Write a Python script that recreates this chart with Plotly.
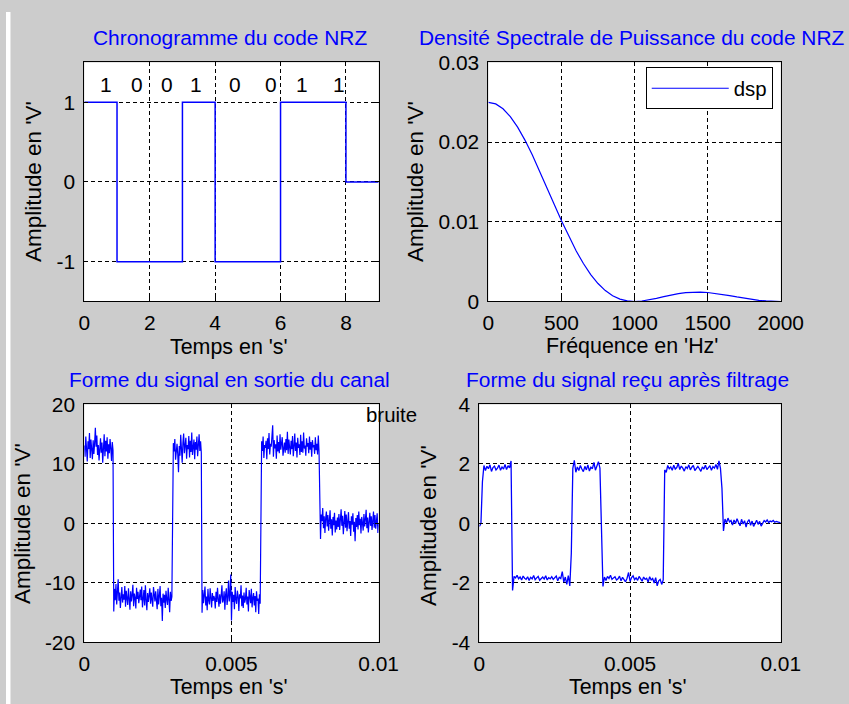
import plotly.graph_objects as go

# ---------------- data ----------------
# 1) NRZ chronogram
bits = ['1', '0', '0', '1', '0', '0', '1', '1']
nrz_t = [0, 1, 3, 4, 6, 8, 9]
nrz_v = [1, -1, 1, -1, 1, 0, 0]
bit_label_x = [0.67, 1.62, 2.53, 3.42, 4.61, 5.70, 6.65, 7.78]
bit_label_y = 1.22

# 2) Power spectral density (read every 50 Hz)
dsp_f = [0, 50, 100, 150, 200, 250, 300, 350, 400, 450,
         500, 550, 600, 650, 700, 750, 800, 850, 900, 950,
         1000, 1050, 1100, 1150, 1200, 1250, 1300, 1350, 1400, 1450,
         1500, 1550, 1600, 1650, 1700, 1750, 1800, 1850, 1900, 1950, 2000]
dsp_v = [0.02500, 0.02480, 0.02419, 0.02320, 0.02188, 0.02026, 0.01842, 0.01642, 0.01432, 0.01220,
         0.01013, 0.00817, 0.00636, 0.00476, 0.00338, 0.00225, 0.00137, 0.00072, 0.00030, 0.00007,
         0.00000, 0.00006, 0.00020, 0.00039, 0.00061, 0.00081, 0.00098, 0.00110, 0.00117, 0.00118,
         0.00113, 0.00103, 0.00090, 0.00074, 0.00057, 0.00041, 0.00027, 0.00015, 0.00007, 0.00002,
         0.00000]

# 3) channel output (sampled every 25 us)
canal_period = 0.000025
canal_v = [
    13.1, 11.2, 14.6, 12.0, 10.4, 13.8, 12.5, 15.2, 11.0, 14.1,
    12.2, 10.8, 14.0, 11.7, 13.5, 16.1, 12.9, 14.8, 11.5, 13.2,
    10.6, 12.7, 14.3, 11.9, 13.6, 10.2, 12.4, 15.0, 11.3, 13.9,
    12.1, 14.5, 10.9, 13.3, 11.8, 14.2, 12.6, 10.5, 13.7, 12.3,
    -14.8, -11.0, -12.9, -10.2, -13.6, -12.1, -9.4, -13.0, -11.6, -14.2,
    -12.4, -10.7, -13.3, -11.9, -12.8, -10.5, -14.0, -11.3, -12.6, -13.7,
    -10.9, -12.2, -14.5, -11.4, -13.1, -12.0, -10.3, -13.9, -11.8, -12.5,
    -14.3, -10.8, -12.7, -11.5, -13.4, -12.3, -11.1, -12.9, -10.6, -14.1,
    -12.6, -11.2, -13.8, -10.4, -12.9, -14.6, -11.7, -13.2, -12.1, -10.9,
    -13.5, -11.6, -12.8, -14.0, -10.7, -12.4, -13.1, -11.4, -12.7, -14.4,
    -11.0, -13.6, -12.2, -10.5, -13.9, -12.5, -16.4, -11.8, -13.3, -12.0,
    -14.2, -11.3, -12.8, -13.7, -10.8, -12.6, -14.9, -11.5, -13.0, -12.3,
    11.0, 13.5, 12.1, 14.2, 10.7, 12.8, 13.4, 11.6, 8.6, 13.0,
    11.4, 14.9, 12.3, 10.2, 13.6, 15.1, 11.8, 12.7, 14.4, 10.9,
    13.2, 12.5, 14.7, 11.1, 13.9, 12.0, 15.3, 11.5, 12.9, 14.1,
    10.8, 13.7, 12.4, 14.6, 11.3, 13.1, 15.0, 12.2, 13.8, 11.9,
    -15.0, -11.2, -13.4, -12.0, -10.6, -13.8, -12.3, -14.6, -11.0, -12.9,
    -13.6, -10.9, -12.4, -14.1, -11.7, -13.0, -12.2, -12.6, -14.3, -11.5,
    -13.2, -10.8, -12.7, -14.0, -11.9, -13.5, -12.1, -10.4, -13.3, -12.8,
    -11.4, -14.5, -12.0, -10.9, -13.7, -12.4, -9.6, -13.1, -11.8, -8.6,
    -16.3, -11.5, -13.2, -12.0, -14.4, -10.7, -12.8, -13.5, -11.3, -12.2,
    -14.7, -11.9, -12.6, -10.4, -13.9, -12.1, -14.2, -11.6, -13.3, -12.7,
    -10.8, -13.6, -12.3, -14.8, -11.2, -12.9, -13.4, -11.0, -14.1, -12.5,
    -11.7, -13.8, -12.2, -14.9, -11.4, -13.0, -12.6, -15.2, -11.9, -13.5,
    11.5, 13.8, 12.2, 14.6, 11.0, 13.2, 12.7, 13.9, 10.8, 14.3,
    12.5, 15.2, 11.6, 13.4, 12.9, 15.6, 16.5, 11.2, 14.0, 12.6,
    13.3, 10.9, 14.8, 12.1, 13.7, 11.8, 15.0, 12.4, 13.1, 14.5,
    11.4, 12.9, 13.6, 11.9, 14.2, 12.3, 15.4, 11.7, 14.1, 12.8,
    11.6, 13.9, 12.5, 14.7, 11.3, 13.0, 15.1, 12.2, 13.6, 11.1,
    14.4, 12.7, 13.3, 11.5, 14.9, 12.0, 13.8, 11.9, 15.3, 12.6,
    13.1, 11.4, 14.3, 12.9, 13.5, 11.8, 14.6, 12.4, 13.7, 11.2,
    14.0, 12.8, 13.2, 11.7, 14.5, 12.3, 13.4, 11.6, 14.8, 12.1,
    -2.3, -2.6, 1.5, 0.4, 2.6, -0.8, 1.2, -1.6, 0.9, 2.0,
    -0.5, 1.4, -1.2, 0.3, 2.2, -0.9, 0.7, -2.0, 1.1, -0.3,
    1.8, -1.5, 0.5, -1.0, 1.0, -0.6, 1.6, -1.1, 0.2, 2.4,
    -0.4, 1.3, -1.8, 0.8, 2.1, -0.7, 1.5, -1.3, 0.6, 1.9,
    -0.9, 0.4, -2.1, 1.2, -0.2, 1.7, -1.4, 0.3, -3.0, 0.9,
    -0.6, 1.4, -1.0, 2.0, -0.3, 0.8, -1.7, 1.1, 0.1, -1.2,
    1.6, -0.5, 0.7, 2.3, -0.8, 1.0, -1.5, 0.5, 1.8, -0.4,
    1.2, -1.1, 0.6, 2.0, -0.7, 1.4, -0.9, 0.3, 1.7, -1.6,
    0.0,
]

# 4) received signal after filtering (sampled every 50 us)
filtre_period = 0.00005
filtre_v = [
    -0.10, 0.00, 1.40, 1.95, 1.78, 1.92, 1.84, 1.97, 1.75, 1.88,
    1.93, 1.80, 1.86, 1.96, 1.79, 1.90, 1.83, 1.98, 1.81, 1.94,
    1.87, 2.10, -2.25, -1.78, -1.83, -1.74, -1.86, -1.80, -1.90, -1.77,
    -1.84, -1.88, -1.79, -1.92, -1.81, -1.86, -1.75, -1.89, -1.83, -1.78,
    -1.91, -1.85, -1.80, -1.87, -1.76, -1.90, -1.82, -1.86, -1.79, -1.88,
    -1.84, -1.77, -1.93, -1.81, -1.85, -1.62, -1.97, -1.80, -2.05, -1.75,
    -2.10, -1.00, 1.85, 2.12, 1.72, 1.90, 1.78, 1.95, 1.83, 1.74,
    1.92, 1.80, 1.97, 1.76, 1.89, 1.84, 2.05, 1.79, 1.93, 2.08,
    1.86, 0.10, -2.12, -1.80, -1.92, -1.78, -1.85, -1.74, -1.88, -1.83,
    -1.79, -1.90, -1.86, -1.77, -1.93, -1.81, -1.87, -1.96, -1.84, -1.65,
    -1.95, -1.82, -1.76, -1.89, -1.83, -1.91, -1.78, -1.86, -1.94, -1.80,
    -1.88, -1.84, -1.97, -1.79, -1.90, -1.85, -2.00, -1.82, -2.10, -1.93,
    -1.88, -2.05, -1.90, 1.80, 1.72, 1.95, 1.84, 1.90, 1.79, 1.96,
    1.83, 1.88, 2.02, 1.81, 1.93, 1.86, 1.76, 1.91, 1.85, 1.97,
    1.80, 1.89, 1.95, 1.78, 1.87, 1.92, 1.84, 1.75, 1.90, 1.83,
    1.96, 1.81, 1.88, 1.94, 1.79, 1.91, 1.86, 1.98, 1.82, 2.10,
    1.85, 1.18, -0.25, 0.15, 0.02, 0.18, 0.05, 0.10, -0.05, 0.12,
    0.00, 0.16, 0.03, -0.08, 0.14, -0.02, 0.09, -0.12, 0.06, 0.13,
    -0.06, 0.08, -0.10, 0.04, 0.11, -0.03, 0.07, -0.09, 0.02, 0.10,
    0.05, 0.12, 0.03, 0.08, 0.06, 0.10, 0.04, 0.07, 0.05, 0.03,
    0.02,
]
canal_t = [k * canal_period for k in range(len(canal_v))]
filtre_t = [k * filtre_period for k in range(len(filtre_v))]

# ---------------- layout helpers ----------------
# The photographed picture shows the page slightly reduced and shifted
# (picture = A * page + B).  Targets below are picture pixels read off the
# reference; they are converted back to page pixels.
AX, BX = 0.970, 4.5
AY, BY = 0.969, 10.5
FS = 1.02  # font compensation
W, H = 900, 740  # figure is larger than the window; overflow is hidden
FONT = "Liberation Sans, Arial, sans-serif"
BLUE = "#0000ff"
GRAY = "#cccccc"


def px_x(sx):
    """picture pixel -> paper fraction"""
    return ((sx - BX) / AX) / W


def px_y(sy):
    return 1 - ((sy - BY) / AY) / H


fig = go.Figure()

fig.add_trace(go.Scatter(x=nrz_t, y=nrz_v, mode="lines", line=dict(color=BLUE, width=1.5, shape="hv"),
                         xaxis="x", yaxis="y", showlegend=False))
fig.add_trace(go.Scatter(x=dsp_f, y=dsp_v, mode="lines", name="dsp", line=dict(color=BLUE, width=1.2),
                         xaxis="x2", yaxis="y2", showlegend=True))
fig.add_trace(go.Scatter(x=canal_t, y=canal_v, mode="lines", line=dict(color=BLUE, width=1.2),
                         xaxis="x3", yaxis="y3", showlegend=False))
fig.add_trace(go.Scatter(x=filtre_t, y=filtre_v, mode="lines", line=dict(color=BLUE, width=1.3),
                         xaxis="x4", yaxis="y4", showlegend=False))

TICK_FS = 20.5 * FS


def axis(domain, rng, tickvals, ticktext, anchor, standoff):
    return dict(domain=domain, range=rng, tickvals=tickvals, ticktext=ticktext, anchor=anchor,
                showgrid=True, gridcolor="black", gridwidth=1, griddash="4px,3px",
                zeroline=False, showline=True, linecolor="black", linewidth=1, mirror="ticks",
                ticks="inside", ticklen=4, tickcolor="black", ticklabelstandoff=standoff,
                tickfont=dict(family=FONT, size=TICK_FS, color="black"), fixedrange=True)


# plot areas in picture pixels: (left, right, top, bottom)
P1 = (83, 378, 61, 300)
P2 = (488, 781, 61, 300)
P3 = (83, 378, 403, 641)
P4 = (479, 781, 403, 641)


def xd(p):
    return [px_x(p[0]), px_x(p[1])]


def yd(p):
    return [px_y(p[3]), px_y(p[2])]


XS, YS = 2, 4

fig.update_layout(
    width=W, height=H,
    margin=dict(l=0, r=0, t=0, b=0),
    paper_bgcolor=GRAY, plot_bgcolor="white",
    font=dict(family=FONT, size=20, color="black"),
    xaxis=axis(xd(P1), [0, 9], [0, 2, 4, 6, 8], ["0", "2", "4", "6", "8"], "y", XS),
    yaxis=axis(yd(P1), [-1.5, 1.5], [-1, 0, 1], ["-1", "0", "1"], "x", YS),
    xaxis2=axis(xd(P2), [0, 2000], [0, 500, 1000, 1500, 2000], ["0", "500", "1000", "1500", "2000"], "y2", XS),
    yaxis2=axis(yd(P2), [0, 0.03], [0, 0.01, 0.02, 0.03], ["0", "0.01", "0.02", "0.03"], "x2", YS),
    xaxis3=axis(xd(P3), [0, 0.01], [0, 0.005, 0.01], ["0", "0.005", "0.01"], "y3", XS),
    yaxis3=axis(yd(P3), [-20, 20], [-20, -10, 0, 10, 20], ["-20", "-10", "0", "10", "20"], "x3", YS),
    xaxis4=axis(xd(P4), [0, 0.01], [0, 0.005, 0.01], ["0", "0.005", "0.01"], "y4", XS),
    yaxis4=axis(yd(P4), [-4, 4], [-4, -2, 0, 2, 4], ["-4", "-2", "0", "2", "4"], "x4", YS),
    legend=dict(x=px_x(773), xanchor="right", y=px_y(66), yanchor="top",
                bgcolor="white", bordercolor="black", borderwidth=1,
                font=dict(family=FONT, size=20 * FS, color="black"), itemwidth=77),
    shapes=[
        dict(type="rect", xref="paper", yref="paper", x0=0, x1=px_x(9), y0=0, y1=1,
             fillcolor="white", line=dict(width=0), layer="below"),
    ],
)

ann = []


def paper_text(text, cx, cy, size=20.5, color="black", angle=0):
    ann.append(dict(text=text, x=px_x(cx), y=px_y(cy), xref="paper", yref="paper",
                    xanchor="center", yanchor="middle", showarrow=False, textangle=angle,
                    font=dict(family=FONT, size=size * FS, color=color)))


# titles
paper_text("Chronogramme du code NRZ", 229, 36, color=BLUE)
paper_text("Densité Spectrale de Puissance du code NRZ", 632, 36, color=BLUE)
paper_text("Forme du signal en sortie du canal", 229, 378, color=BLUE)
paper_text("Forme du signal reçu après filtrage", 627, 378, color=BLUE)
# x titles
paper_text("Temps en 's'", 228, 345.5, size=21)
paper_text("Fréquence en 'Hz'", 632, 344.5, size=21)
paper_text("Temps en 's'", 228, 685.5, size=21)
paper_text("Temps en 's'", 628, 685.5, size=21)
# y titles
paper_text("Amplitude en 'V'", 32, 180, size=22, angle=-90)
paper_text("Amplitude en 'V'", 415, 180, size=22, angle=-90)
paper_text("Amplitude en 'V'", 21, 522, size=22, angle=-90)
paper_text("Amplitude en 'V'", 428, 524, size=22, angle=-90)

# bit labels
for b, bx in zip(bits, bit_label_x):
    ann.append(dict(text=b, x=bx, y=bit_label_y, xref="x", yref="y", showarrow=False,
                    xanchor="center", yanchor="middle", font=dict(family=FONT, size=TICK_FS, color="black")))

# 'bruite' label
ann.append(dict(text="bruite", x=0.0095, y=18.3, xref="x3", yref="y3", showarrow=False,
                xanchor="left", yanchor="middle", font=dict(family=FONT, size=20 * FS, color="black")))

fig.update_layout(annotations=ann)

page_css = ("document.body.style.margin='0';"
            "document.body.style.overflow='hidden';"
            "document.documentElement.style.overflow='hidden';")

fig.write_html("out.html", config={"displayModeBar": False}, post_script=page_css)
